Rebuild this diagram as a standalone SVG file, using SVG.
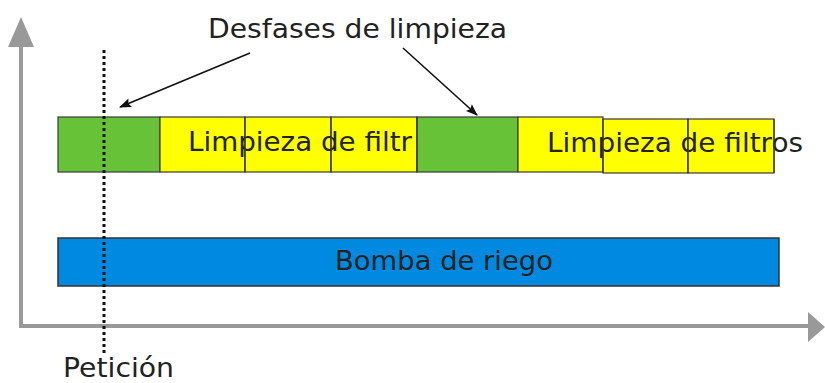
<svg xmlns="http://www.w3.org/2000/svg" width="825" height="383" viewBox="0 0 825 383">
<style>
.g{fill:#68c238;stroke:#3a3a3a;stroke-width:1.2}
.y{fill:#ffff00;stroke:#3a3a3a;stroke-width:1.2}
.b{fill:#0089e0;stroke:#333;stroke-width:1.5}
.o{fill:none;stroke:#3a3a3a;stroke-width:1.2}
.t{font-family:"DejaVu Sans",Verdana,sans-serif;fill:#222;font-size:27px}
.ax{stroke:#999;stroke-width:4;fill:none}
.axh{fill:#999}
.ar{stroke:#111;stroke-width:1.6;fill:none}
</style>
<defs>
<marker id="ah" viewBox="0 0 12 10" refX="11" refY="5" markerWidth="13" markerHeight="10" markerUnits="userSpaceOnUse" orient="auto">
<path d="M0,0.5 L12,5 L0,9.5 L2,5 z" fill="#111"/>
</marker>
</defs>
<g id="axes">
<polyline class="ax" points="21,45 21,326 810,326"/>
<polygon class="axh" points="21,17 8,47 34,47"/>
<polygon class="axh" points="808,312 825,327 808,342"/>
</g>
<g id="green1"><rect class="g" x="58" y="117" width="102" height="55"/></g>
<g id="yellow1"><rect class="y" x="160" y="117" width="85" height="55"/></g>
<g id="yellow2"><rect class="y" x="245" y="117" width="86" height="55"/></g>
<g id="yellow3"><rect class="y" x="331" y="117" width="86" height="55"/></g>
<g id="green2"><rect class="g" x="417" y="117" width="101" height="55"/></g>
<g id="yellow4"><rect class="y" x="518" y="117" width="85" height="55"/></g>
<g id="yellow5"><rect class="y" x="603" y="119" width="85" height="54"/></g>
<g id="yellow6"><rect class="y" x="688" y="119" width="86" height="54"/></g>
<g id="bomba"><rect class="b" x="58" y="238" width="721" height="48"/>
<text class="t" x="335" y="270" font-size="26" textLength="218" lengthAdjust="spacingAndGlyphs">Bomba de riego</text></g>
<g id="labels">
<text class="t" x="188" y="151" textLength="224" lengthAdjust="spacingAndGlyphs">Limpieza de filtr</text>
<text class="t" x="547" y="152" textLength="256" lengthAdjust="spacingAndGlyphs">Limpieza de filtros</text>
<text class="t" x="208" y="38" font-size="28" textLength="299" lengthAdjust="spacingAndGlyphs">Desfases de limpieza</text>
<text class="t" x="63" y="377" font-size="26" textLength="111" lengthAdjust="spacingAndGlyphs">Petición</text>
</g>
<g id="overlay">
<line class="o" x1="245" y1="117" x2="245" y2="172"/>
<line class="o" x1="331" y1="117" x2="331" y2="172"/>
<line class="o" x1="417" y1="117" x2="417" y2="172"/>
<line class="o" x1="603" y1="119" x2="603" y2="173"/>
<line class="o" x1="688" y1="119" x2="688" y2="173"/>
<line class="o" x1="774" y1="119" x2="774" y2="173"/>
</g>
<g id="connectors">
<line x1="104" y1="50" x2="104" y2="353" stroke="#111" stroke-width="3" stroke-dasharray="3 3"/>
<line class="ar" x1="250" y1="53" x2="120" y2="107" marker-end="url(#ah)"/>
<line class="ar" x1="403" y1="48" x2="477" y2="115" marker-end="url(#ah)"/>
</g>
</svg>
